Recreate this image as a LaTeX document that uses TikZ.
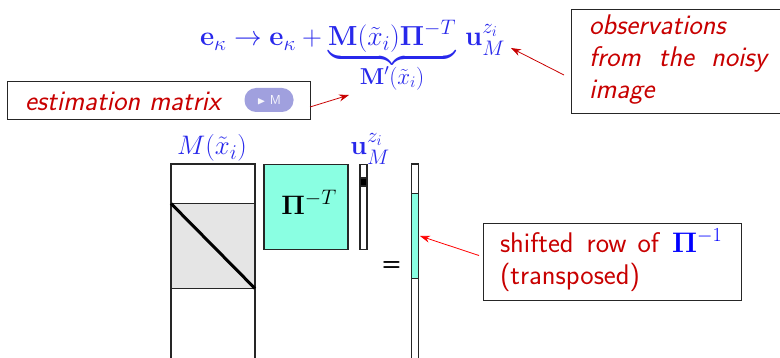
\documentclass[tikz,border=0pt]{standalone}
\usepackage{fix-cm}
\usepackage{amsmath,amssymb}
\usepackage{xcolor}
\usetikzlibrary{arrows.meta,positioning,calc}
\DeclareMathSizes{26.8}{26.8}{21}{15}
\DeclareMathSizes{27.6}{27.6}{21}{15}
\definecolor{notered}{RGB}{200,0,0}
\definecolor{mathblue}{RGB}{40,40,235}
\definecolor{piteal}{RGB}{138,255,226}
\definecolor{blockgray}{RGB}{229,229,229}
\definecolor{btnviolet}{RGB}{160,160,222}
\begin{document}
\begin{tikzpicture}[
    x=1pt, y=-1pt,
    every node/.style={inner sep=0pt, outer sep=0pt},
    note/.style={draw=black!85, line width=0.9pt, fill=white, anchor=north west},
    notetext/.style={text=notered, align=left, anchor=base west, font=\sffamily\fontsize{28.4}{32}\selectfont},
    noteslant/.style={notetext, font=\sffamily\itshape\fontsize{28.4}{32}\selectfont},
    mat/.style={draw=black!85, line width=1.2pt, anchor=north west},
    pointer/.style={-{Stealth[length=10pt,width=7pt]}, line width=0.8pt, draw=notered},
    mathtext/.style={text=mathblue, font=\fontsize{26.8}{32}\selectfont}
]
\useasboundingbox (0,0) rectangle (780,358);

% Formula
\node[mathtext, font=\fontsize{27.6}{32}\selectfont, anchor=base west] (update) at (200,46) {$\mathbf{e}_\kappa \rightarrow \mathbf{e}_\kappa + \underbrace{\mathbf{M}(\tilde{x}_i)\boldsymbol{\Pi}^{-T}}_{\mbox{\fontsize{23}{24}\selectfont$\mathbf{M}'(\tilde{x}_i)$}}\,\mathbf{u}_M^{z_i}$};
\coordinate (updateend) at (511,48);
\coordinate (matrixend) at (349,95);

% Notes
\node[note, minimum width=303pt, minimum height=38pt] (estim) at (7,81) {};
\node[noteslant] (estimtext) at (25,111) {estimation matrix};
\node[fill=btnviolet, rounded corners=11.5pt, minimum width=49pt, minimum height=24pt, text=white!90!btnviolet, font=\sffamily\fontsize{13}{14}\selectfont] (button) at (269,100) {{\fontsize{11}{11}\selectfont$\blacktriangleright$}\ M};
\node[note, minimum width=215pt, minimum height=104pt] (obs) at (571,9) {};
\node[noteslant] (obstext) at (589,35) {observations};
\node[noteslant] (obstext2) at (589,67) {from\hspace{18pt}the\hspace{17pt}noisy};
\node[noteslant] (obstext3) at (589,99) {image};
\node[note, minimum width=258pt, minimum height=77pt] (shift) at (483,223) {};
\node[notetext] (shifttext) at (500,253) {shifted\hspace{13pt}row\hspace{11pt}of\hspace{13pt}{\color{blue}$\boldsymbol{\Pi}^{-1}$}};
\node[notetext] (shifttext2) at (500,285) {(transposed)};

% Matrices
\node[mat, minimum width=84pt, minimum height=200pt] (bigm) at (171,164) {};
\node[mat, fill=blockgray, minimum width=84pt, minimum height=85pt] (block) at (171,203.5) {};
\draw[line width=3pt, black] (block.north west) -- (block.south east);
\node[mat, fill=piteal, minimum width=84pt, minimum height=85pt] (pimat) at (264,164.5) {};
\node[font=\fontsize{26.8}{32}\selectfont] (pilabel) at (309,202) {$\boldsymbol{\Pi}^{-T}$};
\node[mat, minimum width=7pt, minimum height=85pt] (uvec) at (360,164.5) {};
\node[mat, fill=black, minimum width=7pt, minimum height=8pt] (uentry) at (360,178) {};
\node[mat, minimum width=7pt, minimum height=200pt] (evec) at (411.5,164) {};
\node[mat, fill=piteal, minimum width=7pt, minimum height=85pt] (eshift) at (411.5,193.5) {};
\node[font=\sffamily\bfseries\fontsize{22}{26}\selectfont] (equal) at (391.5,266) {=};

% Labels over the matrices
\node[mathtext, anchor=base] (mlabel) at (212,155) {$M(\tilde{x}_i)$};
\node[mathtext, anchor=base] (ulabel) at (370,155) {$\mathbf{u}_M^{z_i}$};

% Connectors
\draw[pointer] (estim.east) ++(0,7) -- (matrixend);
\draw[pointer] (obs.west) ++(-7,14) -- (updateend);
\draw[pointer, draw=red] (shift.west) ++(-4,-6) -- ($(eshift.east)+(1.5,0)$);

\end{tikzpicture}
\end{document}
